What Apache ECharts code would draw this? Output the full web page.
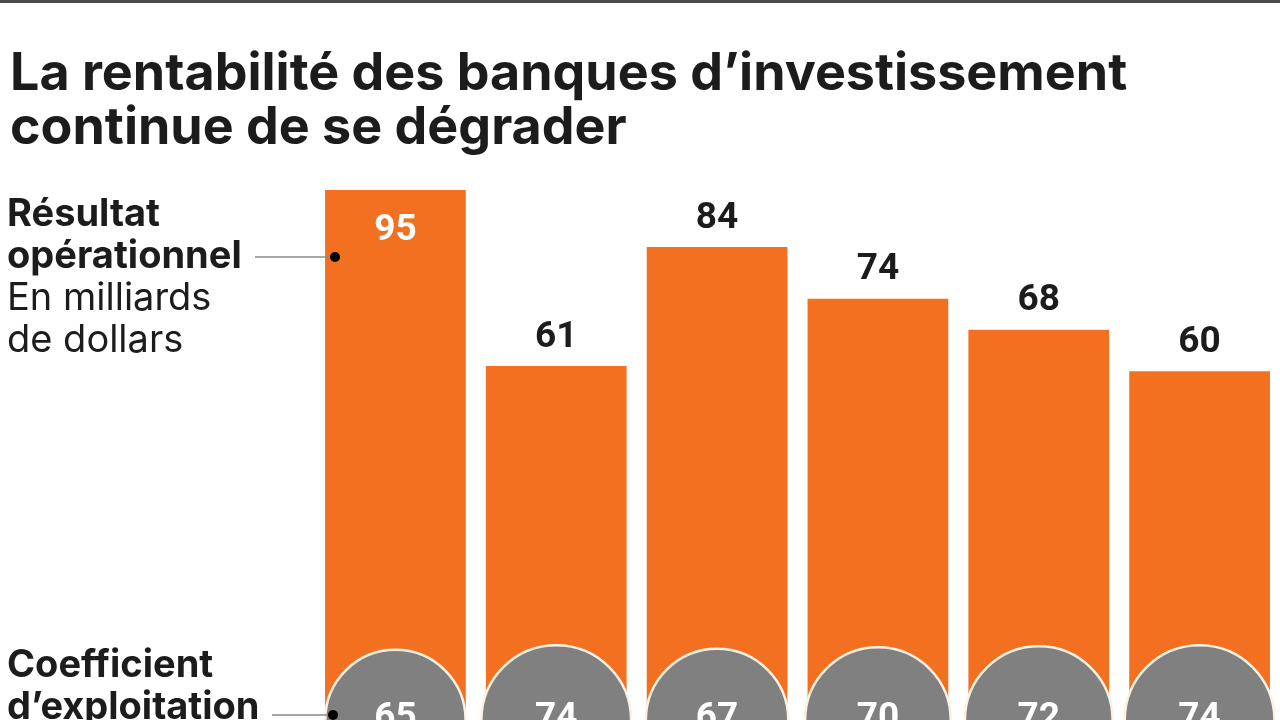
<!DOCTYPE html>
<html>
<head>
<meta charset="utf-8">
<script src="https://cdn.jsdelivr.net/npm/echarts@6/dist/echarts.min.js"></script>
<style>
html,body{margin:0;padding:0;background:#fff;}
#chart{width:1280px;height:720px;}
</style>
</head>
<body>
<div id="chart"></div>
<script>
// ---- data ----
var categories = ['A1', 'A2', 'A3', 'A4', 'A5', 'A6'];
var resultatOperationnel = [95, 61, 84, 74, 68, 60];   // milliards de dollars
var coefficientExploitation = [65, 74, 67, 70, 72, 74]; // %
var titleLines = ['La rentabilité des banques d’investissement', 'continue de se dégrader'];

// ---- chart ----
var Y_MIN = -7.4;
var ORANGE = '#F37021';
var GRAY = '#808080';
var FONT = 'Roboto, "Liberation Sans", sans-serif';
var TFONT = 'Inter, Roboto, sans-serif';
var maxVal = Math.max.apply(null, resultatOperationnel);

var chart = echarts.init(document.getElementById('chart'), null, {renderer: 'canvas'});

chart.setOption({
  backgroundColor: '#ffffff',
  animation: false,
  title: {
    text: titleLines.join('\n'),
    left: 5,
    top: 42,
    textStyle: {fontFamily: TFONT, fontSize: 52, fontWeight: 'bold', color: '#1c1c1c', lineHeight: 54}
  },
  grid: {left: 315, right: -1, top: 190, bottom: 0, containLabel: false},
  xAxis: {
    type: 'category', data: categories,
    axisLine: {show: false}, axisTick: {show: false}, axisLabel: {show: false}, splitLine: {show: false}
  },
  yAxis: {
    type: 'value', min: Y_MIN, max: maxVal,
    axisLine: {show: false}, axisTick: {show: false}, axisLabel: {show: false}, splitLine: {show: false}
  },
  series: [
    {
      type: 'custom',
      data: resultatOperationnel.map(function (v, i) { return [i, v]; }),
      clip: false,
      renderItem: function (params, api) {
        var x = api.value(0), v = api.value(1);
        var top = api.coord([x, v]);
        var base = api.coord([x, Y_MIN]);
        var w = api.size([1, 0])[0] * 0.875;
        var inside = v === maxVal;
        return {
          type: 'rect',
          shape: {x: top[0] - w / 2, y: top[1], width: w, height: base[1] - top[1]},
          style: {fill: ORANGE},
          textContent: {
            style: {text: String(v), fill: inside ? '#ffffff' : '#1c1c1c', font: 'bold 37px ' + FONT}
          },
          textConfig: {position: inside ? 'insideTop' : 'top', distance: inside ? 22 : 10}
        };
      }
    },
    {
      type: 'scatter',
      data: coefficientExploitation.map(function (c, i) { return [i, Y_MIN, c]; }),
      symbol: 'circle',
      symbolSize: function (d) { return 17.4 * Math.sqrt(d[2]); },
      clip: false,
      itemStyle: {color: GRAY, borderColor: '#fdf1e4', borderWidth: 2.5, opacity: 1},
      label: {
        show: true, position: 'inside', offset: [0, -1],
        formatter: function (p) { return p.data[2]; },
        color: '#ffffff', fontFamily: FONT, fontWeight: 'bold', fontSize: 37
      },
      z: 5
    }
  ],
  graphic: [
    {type: 'rect', left: 0, top: 0, shape: {width: 1280, height: 3}, style: {fill: '#4a4a4a'}},
    {
      type: 'text', left: 7, top: 196,
      style: {
        text: '{b|Résultat}\n{b|opérationnel}\n{r|En milliards}\n{r|de dollars}',
        rich: {
          b: {fontFamily: TFONT, fontSize: 38, fontWeight: 'bold', fill: '#1c1c1c', lineHeight: 42},
          r: {fontFamily: TFONT, fontSize: 38, fontWeight: 'normal', fill: '#1c1c1c', lineHeight: 42}
        }
      }
    },
    {type: 'line', shape: {x1: 255, y1: 257, x2: 335, y2: 257}, style: {stroke: '#8a8a8a', lineWidth: 1.5}, z: 10},
    {type: 'circle', shape: {cx: 335, cy: 257, r: 5}, style: {fill: '#000'}, z: 10},
    {
      type: 'text', left: 7, top: 647,
      style: {
        text: '{b|Coefficient}\n{b|d’exploitation}',
        rich: {
          b: {fontFamily: TFONT, fontSize: 38, fontWeight: 'bold', fill: '#1c1c1c', lineHeight: 42}
        }
      }
    },
    {type: 'line', shape: {x1: 272, y1: 715, x2: 333, y2: 715}, style: {stroke: '#8a8a8a', lineWidth: 1.5}, z: 10},
    {type: 'circle', shape: {cx: 333, cy: 715, r: 5}, style: {fill: '#000'}, z: 10}
  ]
});
</script>
</body>
</html>
